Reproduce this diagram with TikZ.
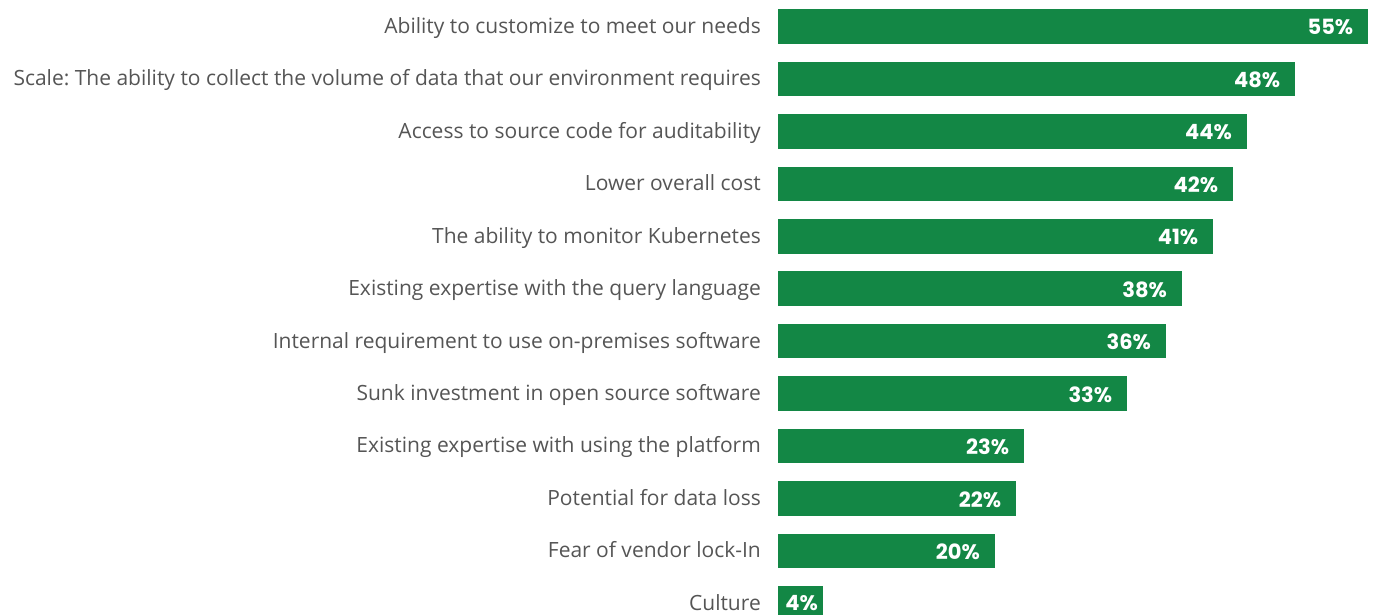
\documentclass[tikz,border=0pt]{standalone}
\usepackage{fontspec}
\setmainfont{Open Sans}
\newfontfamily\pctfont{Poppins}
\frenchspacing
\definecolor{barcol}{HTML}{138745}
\definecolor{labcol}{HTML}{555555}
\tikzset{
  bar/.style={fill=barcol, draw=none, inner sep=0pt, minimum height=34.5pt, anchor=north west},
  lab/.style={text=labcol, font=\fontsize{21}{24}\selectfont\frenchspacing, inner sep=0pt, anchor=base east},
  pct/.style={text=white, font=\pctfont\fontsize{21}{24}\selectfont\bfseries, inner sep=0pt, text depth=0pt, anchor=base east}
}
\begin{document}
\begin{tikzpicture}[x=1pt,y=-1pt]
\useasboundingbox (0,0) rectangle (1376,615);
\clip (0,0) rectangle (1376,615);
\foreach \i/\v/\e/\t/\s/\b in {
 1/55/1368/Ability to customize to meet our needs/15/26,
 2/48/1295/Scale: The ability to collect the volume of data that our environment requires/15/26,
 3/44/1246.7/Access to source code for auditability/15/26,
 4/42/1233/Lower overall cost/15/26,
 5/41/1213/The ability to monitor Kubernetes/15/26,
 6/38/1181.7/Existing expertise with the query language/15/26,
 7/36/1165.7/Internal requirement to use on-premises software/15/26,
 8/33/1127/Sunk investment in open source software/15/26,
 9/23/1024/Existing expertise with using the platform/15/26,
 10/22/1016/Potential for data loss/15/26,
 11/20/994.7/Fear of vendor lock-In/15/26,
 12/4/822.7/Culture/5/24.3}{
  \pgfmathsetmacro{\top}{9+(\i-1)*52.45}
  \pgfmathsetmacro{\w}{\e-777.7}
  \node[bar, minimum width=\w pt] (b\i) at (777.7,\top) {};
  \node[lab] (l\i) at (761,\top+24.3) {\t};
  \node[pct] (p\i) at ([xshift=-\s pt]b\i.east |- 0,\top+\b) {\v\%};
}
\end{tikzpicture}
\end{document}
